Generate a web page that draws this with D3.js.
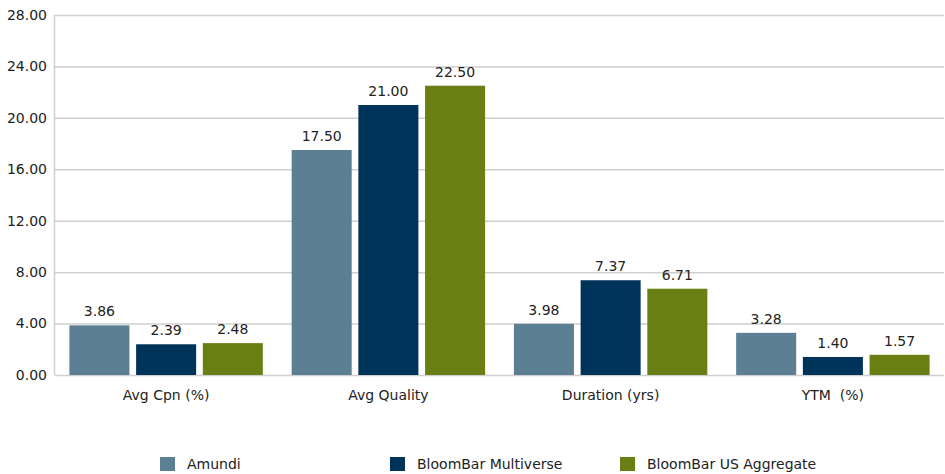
<!DOCTYPE html>
<html><head><meta charset="utf-8">
<script src="https://cdn.jsdelivr.net/npm/d3@7/dist/d3.min.js"></script>
<style>body{margin:0;background:#fff}svg{display:block}text{font-family:"DejaVu Sans",sans-serif;fill:#222}</style>
</head><body><svg id="c" width="945" height="474"></svg>
<script>
const categories = ["Avg Cpn (%)", "Avg Quality", "Duration (yrs)", "YTM  (%)"];
const seriesNames = ["Amundi", "BloomBar Multiverse", "BloomBar US Aggregate"];
const amundi = [3.86, 17.50, 3.98, 3.28];
const multiverse = [2.39, 21.00, 7.37, 1.40];
const usAggregate = [2.48, 22.50, 6.71, 1.57];
const yTicks = [0, 4, 8, 12, 16, 20, 24, 28];
const colors = ["#5c7f94", "#003359", "#6a7f13"];
const series = [amundi, multiverse, usAggregate];

const svg = d3.select("#c");
const pL = 55, pR = 944, pT = 15, pB = 375;
const x0 = d3.scaleBand().domain(categories).range([pL, pR]).paddingInner(0).paddingOuter(0);
const x1 = d3.scaleBand().domain(d3.range(3)).range([0, x0.bandwidth()]).paddingInner(0.1).paddingOuter(0.216);
const y = d3.scaleLinear().domain([0, 28]).range([pB, pT]);

svg.append("g").selectAll("line").data(yTicks).join("line")
  .attr("x1", pL).attr("x2", pR).attr("y1", d => y(d)+0.5).attr("y2", d => y(d)+0.5)
  .attr("stroke", "#cfcfcf").attr("stroke-width", 1.5);
svg.append("line").attr("x1", pL-0.5).attr("x2", pL-0.5).attr("y1", pT).attr("y2", pB)
  .attr("stroke", "#cfcfcf").attr("stroke-width", 1.5);

svg.append("g").selectAll("text").data(yTicks).join("text")
  .attr("x", 47).attr("y", d => y(d)).attr("dy", "0.35em").attr("text-anchor", "end")
  .style("font-size", "14px").text(d => d.toFixed(2));

const g = svg.append("g").selectAll("g").data(categories).join("g")
  .attr("transform", d => `translate(${x0(d)},0)`);
g.selectAll("rect").data((d, i) => series.map((s, k) => ({k, v: s[i]}))).join("rect")
  .attr("x", d => x1(d.k)).attr("width", x1.bandwidth())
  .attr("y", d => y(d.v)).attr("height", d => y(0) - y(d.v))
  .attr("fill", d => colors[d.k]);
g.selectAll("text").data((d, i) => series.map((s, k) => ({k, v: s[i]}))).join("text")
  .attr("x", d => x1(d.k) + x1.bandwidth()/2).attr("y", d => y(d.v) - 9)
  .attr("text-anchor", "middle").style("font-size", "14px").text(d => d.v.toFixed(2));

svg.append("g").selectAll("text").data(categories).join("text")
  .attr("x", d => x0(d) + x0.bandwidth()/2).attr("y", 400).attr("text-anchor", "middle")
  .style("font-size", "14px").style("white-space", "pre").text(d => d);

const legX = [160, 390, 620];
const lg = svg.append("g").selectAll("g").data(seriesNames).join("g")
  .attr("transform", (d, i) => `translate(${legX[i]},457)`);
lg.append("rect").attr("width", 15).attr("height", 14).attr("fill", (d, i) => colors[i]);
lg.append("text").attr("x", 27).attr("y", 7).attr("dy", "0.35em").style("font-size", "14px").text(d => d);
</script></body></html>
